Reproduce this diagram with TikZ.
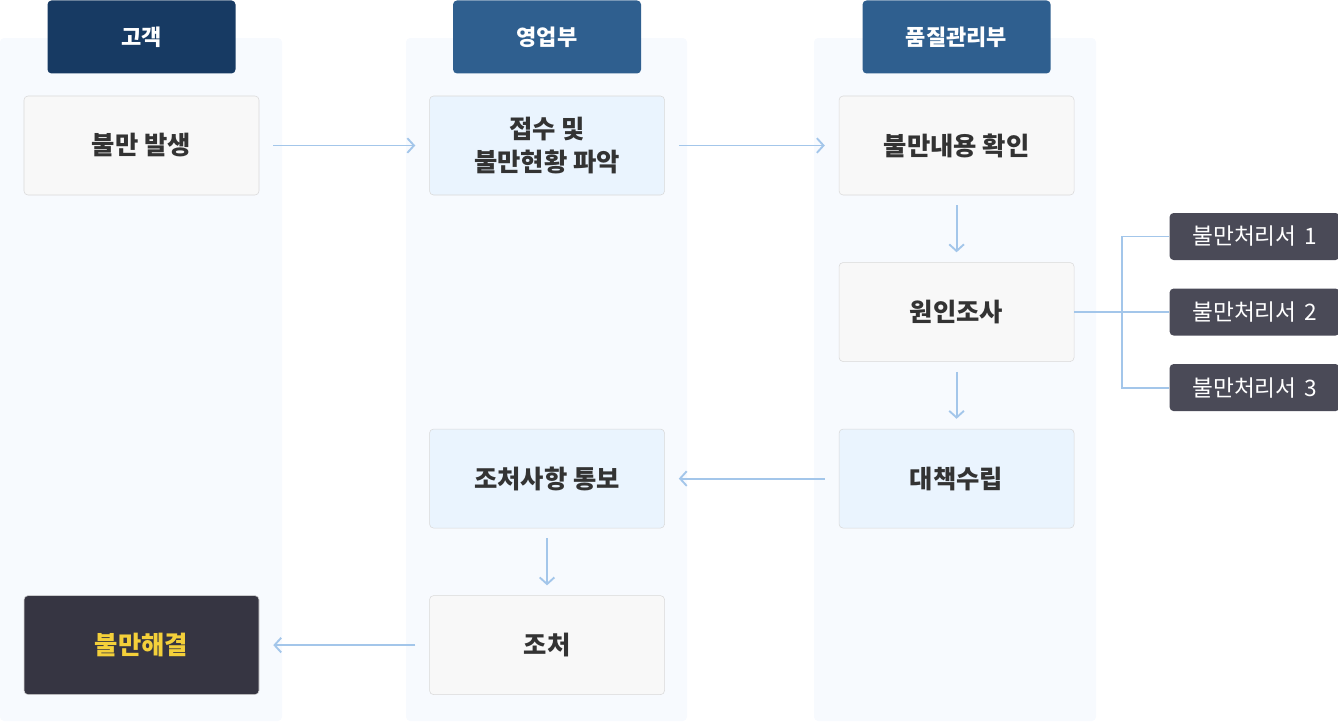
\documentclass[tikz,border=0pt]{standalone}
\usepackage{fontspec}
\setmainfont{Noto Sans CJK KR}
\usetikzlibrary{arrows.meta,positioning}
\definecolor{laneclr}{HTML}{F7FAFE}
\definecolor{hdone}{HTML}{173A63}
\definecolor{hdtwo}{HTML}{2F5F8F}
\definecolor{grayfill}{HTML}{F8F8F8}
\definecolor{grayline}{HTML}{D9D9D9}
\definecolor{bluefill}{HTML}{EAF4FE}
\definecolor{linkclr}{HTML}{A3C6EA}
\definecolor{textclr}{HTML}{333333}
\definecolor{darkfill}{HTML}{363542}
\definecolor{docfill}{HTML}{4A4A57}
\definecolor{goldtxt}{HTML}{F4D03A}
\begin{document}
\begin{tikzpicture}[
		x=0.75pt, y=-0.75pt,
		node distance=50.25pt,
		lane/.style={fill=laneclr, rounded corners=3pt},
		head/.style={rounded corners=3pt, minimum width=141pt, minimum height=54.75pt, text=white, font=\bfseries\fontsize{16.5}{18}\selectfont},
		block/.style={draw=grayline, fill=grayfill, rounded corners=3pt, minimum width=176.25pt, minimum height=74.25pt, text=textclr, align=center, font=\bfseries\fontsize{19}{25}\selectfont},
		lblock/.style={block, fill=bluefill},
		doc/.style={fill=docfill, rounded corners=3pt, inner xsep=0pt, text width=127.5pt, align=center, minimum height=35.25pt, text=white, font=\fontsize{17}{20}\selectfont},
		link/.style={draw=linkclr, line width=1.4pt},
		flow/.style={link, -{Straight Barb[length=5pt,width=11pt]}, shorten <=10.5pt, shorten >=10.5pt},
		down/.style={link, -{Straight Barb[length=5pt,width=11pt]}, shorten <=7.5pt, shorten >=7.5pt},
	]
		\useasboundingbox (0,0) rectangle (1338,722);
		\fill[lane] (0,38) rectangle (282,721);
		\fill[lane] (406,38) rectangle (687,721);
		\fill[lane] (814,38) rectangle (1096,721);

		\node[block] (fa) at (141.5,145.5) {불만 발생};
		\node[lblock, right=127.5pt of fa] (jp) {접수 및\\불만현황 파악};
		\node[block, right=130.5pt of jp] (hw) {불만내용 확인};
		\node[block, below=of hw] (wj) {원인조사};
		\node[lblock, below=of wj] (dc) {대책수립};
		\node[lblock, left=130.5pt of dc] (jt) {조처사항 통보};
		\node[block, below=of jt] (jc) {조처};
		\node[block, left=127.5pt of jc, fill=darkfill, draw=grayline, text=goldtxt] (hg) {불만해결};

		\node[head, fill=hdone, above=16.5pt of fa] (cst) {고객};
		\node[head, fill=hdtwo, above=16.5pt of jp] (sal) {영업부};
		\node[head, fill=hdtwo, above=16.5pt of hw] (qlt) {품질관리부};

		\node[doc, right=71.25pt of wj] (d2) {불만처리서 2};
		\node[doc, above=21pt of d2] (d1) {불만처리서 1};
		\node[doc, below=21pt of d2] (d3) {불만처리서 3};

		\draw[flow] (fa) -- (jp);
		\draw[flow] (jp) -- (hw);
		\draw[down] (hw) -- (wj);
		\draw[down] (wj) -- (dc);
		\draw[flow] (dc) -- (jt);
		\draw[down] (jt) -- (jc);
		\draw[flow] (jc) -- (hg);
		\draw[link] (wj.east) -- (d2.west);
		\draw[link] (d1.west) -- ++(-47,0) |- (d3.west);
	\end{tikzpicture}
\end{document}
